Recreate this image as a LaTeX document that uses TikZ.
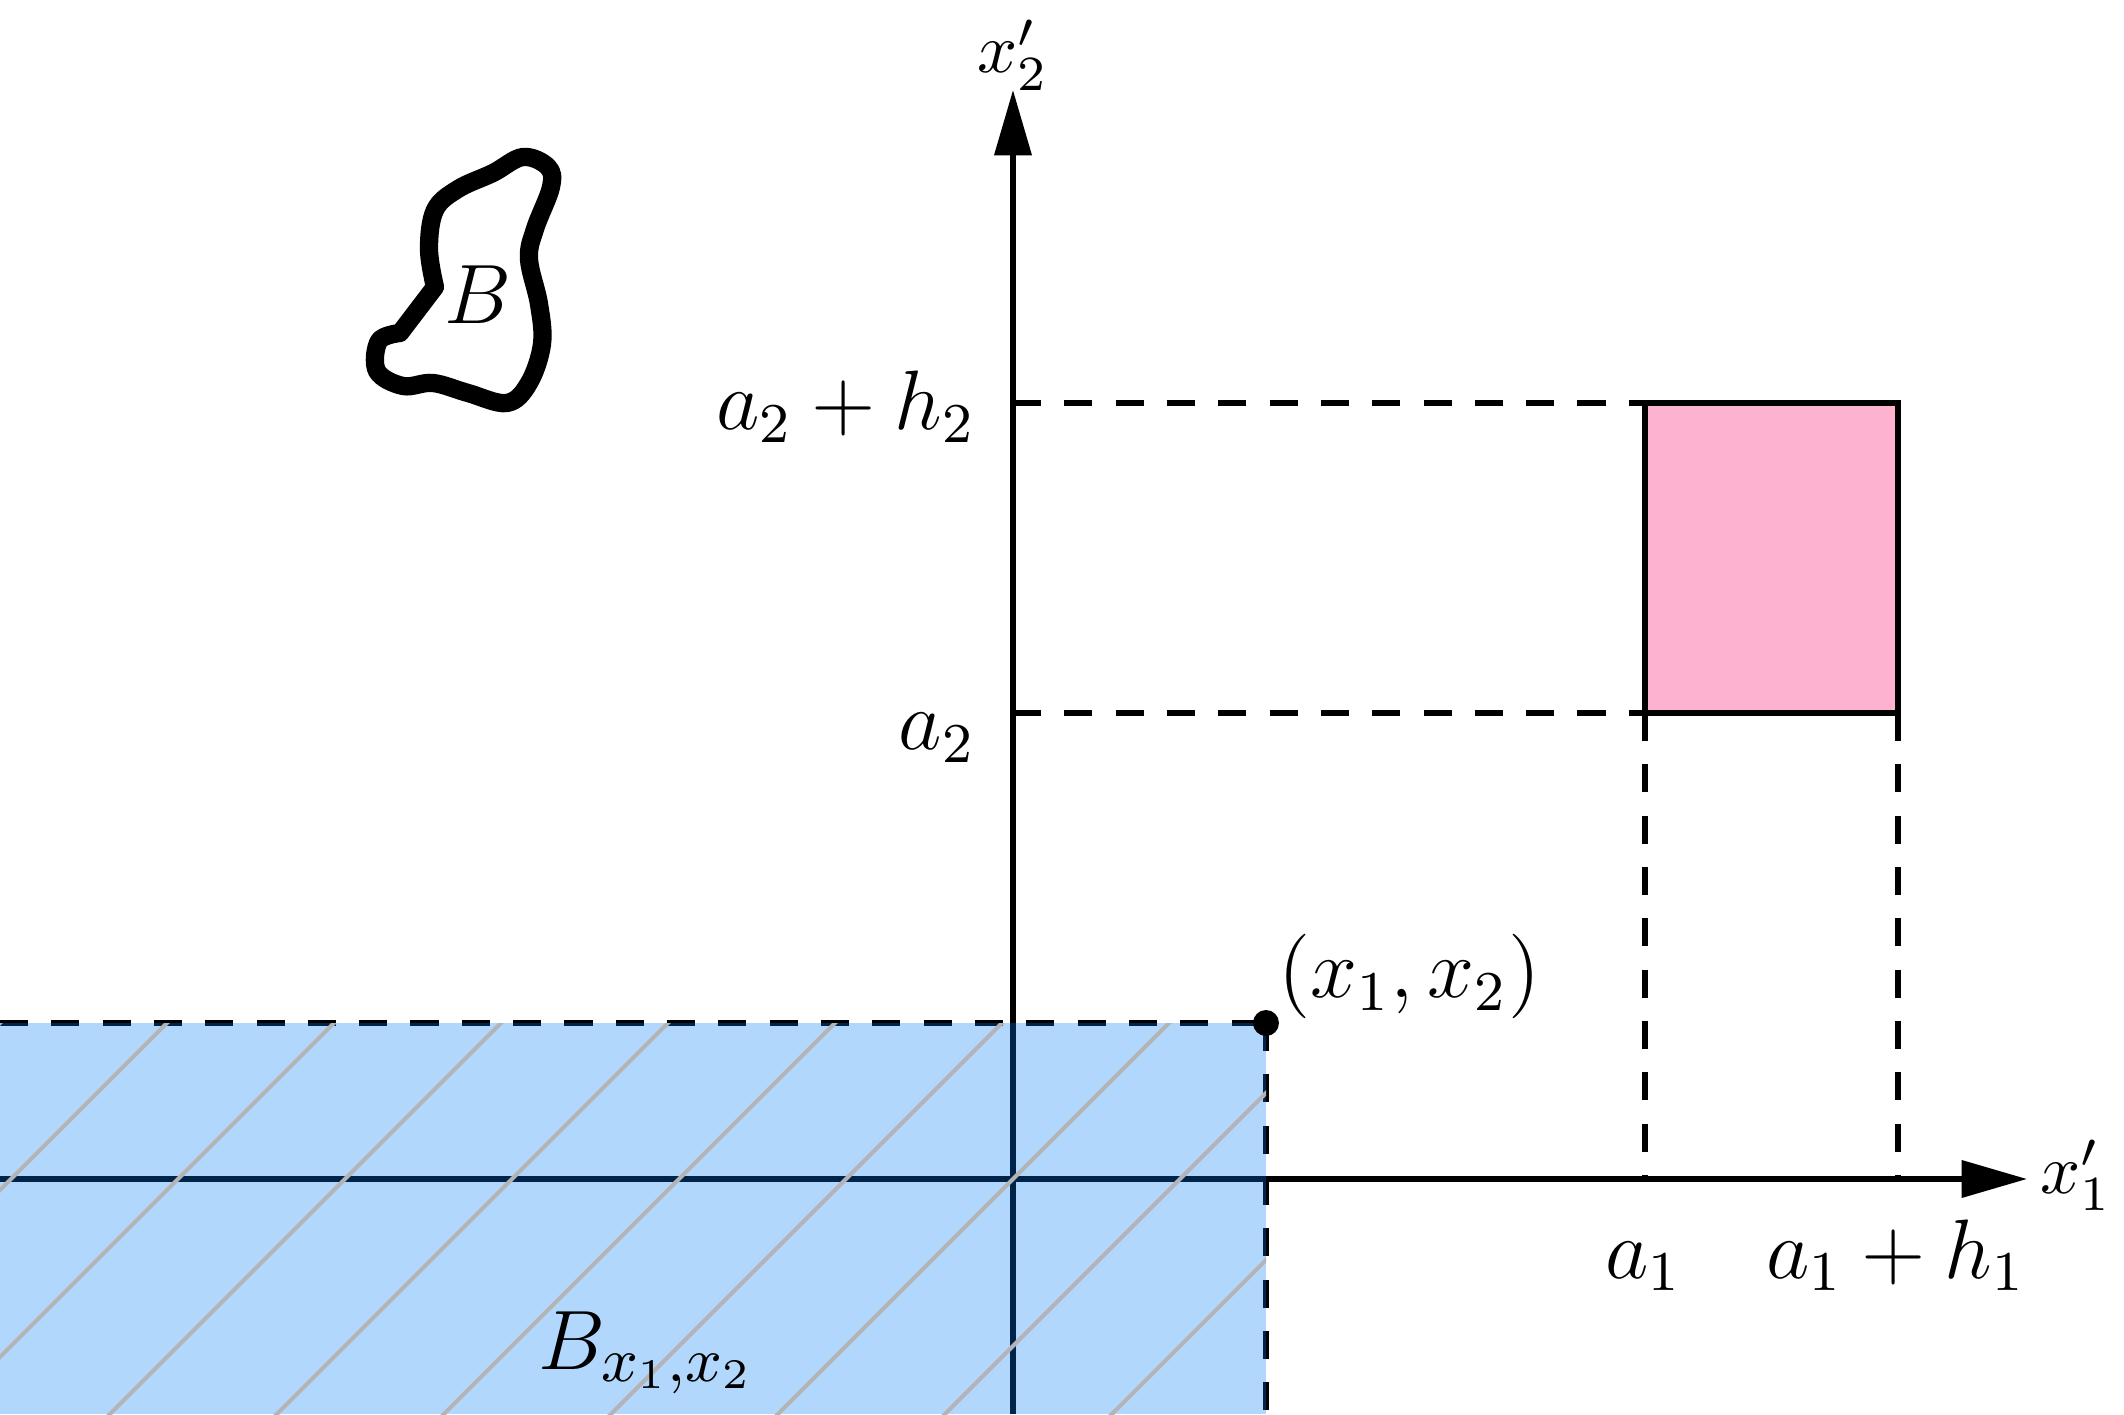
\documentclass[tikz,border=0pt]{standalone}
\usepackage{tikz}
\usetikzlibrary{arrows.meta}
\usepackage{xcolor}
\usepackage{amsmath, amssymb}

\definecolor{regionblue}{RGB}{0,122,245}
\definecolor{boxpink}{RGB}{253,178,207}
\definecolor{hatchgray}{RGB}{180,180,180}

\begin{document}
\begin{tikzpicture}[x=0.5cm, y=0.5cm]
        % ================= 样式定义 =================
        \tikzset{
            % 坐标轴
            axis/.style={line width=0.75pt, -{Triangle[length=9.3pt, width=5.2pt]}},
            % 虚线辅助线
            guide/.style={line width=0.75pt, dash pattern=on 4pt off 3.3pt},
            % 矩形 (粉色)
            boxedge/.style={line width=0.75pt, fill=boxpink},
            % 集合 B 的边界
            blobline/.style={line width=2.6pt, line join=round},
            % 阴影线
            hatchline/.style={line width=0.6pt, hatchgray},
            % 标签
            lbl/.style={inner sep=0pt, font=\large},
            axlbl/.style={inner sep=0pt, font=\normalsize},
            % 点
            dot/.style={circle, fill=black, inner sep=0pt, minimum size=1.3mm}
        }

        \useasboundingbox (-10.13,-2.35) rectangle (11.11,11.79);

        % ================= 坐标点 =================
        \coordinate (O) at (0,0);
        \coordinate (xL) at (-10.13,0);
        \coordinate (xR) at (10.14,0);
        \coordinate (yB) at (0,-2.35);
        \coordinate (yT) at (0,10.89);
        % 矩形的四个角
        \coordinate (SW) at (6.32,4.66);
        \coordinate (SE) at (8.85,4.66);
        \coordinate (NW) at (6.32,7.76);
        \coordinate (NE) at (8.85,7.76);
        % 轴上的投影
        \coordinate (a1) at (6.32,0);
        \coordinate (a1h) at (8.85,0);
        \coordinate (a2) at (0,4.66);
        \coordinate (a2h) at (0,7.76);
        % 区域 B_{x_1,x_2}
        \coordinate (P) at (2.53,1.56);
        \coordinate (PL) at (-10.13,1.56);
        \coordinate (PB) at (2.53,-2.35);

        % ================= 坐标轴 =================
        \draw[axis] (xL) -- (xR);
        \draw[axis] (yB) -- (yT);

        % ================= 矩形与辅助线 =================
        \draw[guide] (a2h) -- (NW);
        \draw[guide] (a2) -- (SW);
        \draw[guide] (SW) -- (a1);
        \draw[guide] (SE) -- (a1h);
        \draw[boxedge] (SW) rectangle (NE);

        % ================= 区域 B_{x_1,x_2} =================
        \draw[guide] (PL) -- (P);
        \draw[guide] (P) -- (PB);
        \fill[regionblue, opacity=0.3] (PL) rectangle (PB);
        \begin{scope}
            \clip (PL) rectangle (PB);
            \foreach \k in {-7,...,3}
                \draw[hatchline] ({\k*1.67-4},-4) -- ({\k*1.67+4},4);
        \end{scope}
        \node[dot] (pt) at (P) {};

        % ================= 集合 B =================
        \draw[blobline] plot[smooth, tension=0.6] coordinates {
            (-5.78,8.92) (-5.84,9.30) (-5.78,9.69) (-5.55,9.90) (-5.20,10.06)
            (-4.90,10.22) (-4.65,10.12) (-4.62,9.92) (-4.78,9.50) (-4.84,9.20)
            (-4.74,8.75) (-4.71,8.35) (-4.84,7.96) (-5.06,7.76) (-5.45,7.86)
            (-5.80,7.96) (-6.10,7.93) (-6.36,8.08) (-6.34,8.38) (-6.13,8.46)
        } -- cycle;

        % ================= 标签 =================
        \node[axlbl, anchor=base] (lx2) at (0,11.06) {$x_2'$};
        \node[axlbl, anchor=base west] (lx1) at (10.26,-0.14) {$x_1'$};
        \node[lbl, anchor=base] (la1) at (6.31,-0.99) {$a_1$};
        \node[lbl, anchor=base] (la1h) at (8.83,-0.99) {$a_1+h_1$};
        \node[lbl, anchor=base east] (la2h) at (-0.36,7.49) {$a_2+h_2$};
        \node[lbl, anchor=base east] (la2) at (-0.36,4.29) {$a_2$};
        \node[lbl, anchor=base west] (lpt) at (2.64,1.81) {$(x_1,x_2)$};
        \node[inner sep=0pt, anchor=base west, font=\fontsize{12.8}{15}\selectfont] (lreg) at (-4.76,-1.90) {$B_{x_1,x_2}$};
        \node[inner sep=0pt, anchor=base west, font=\fontsize{13}{15}\selectfont] (lB) at (-5.70,8.55) {$B$};

\end{tikzpicture}
\end{document}
